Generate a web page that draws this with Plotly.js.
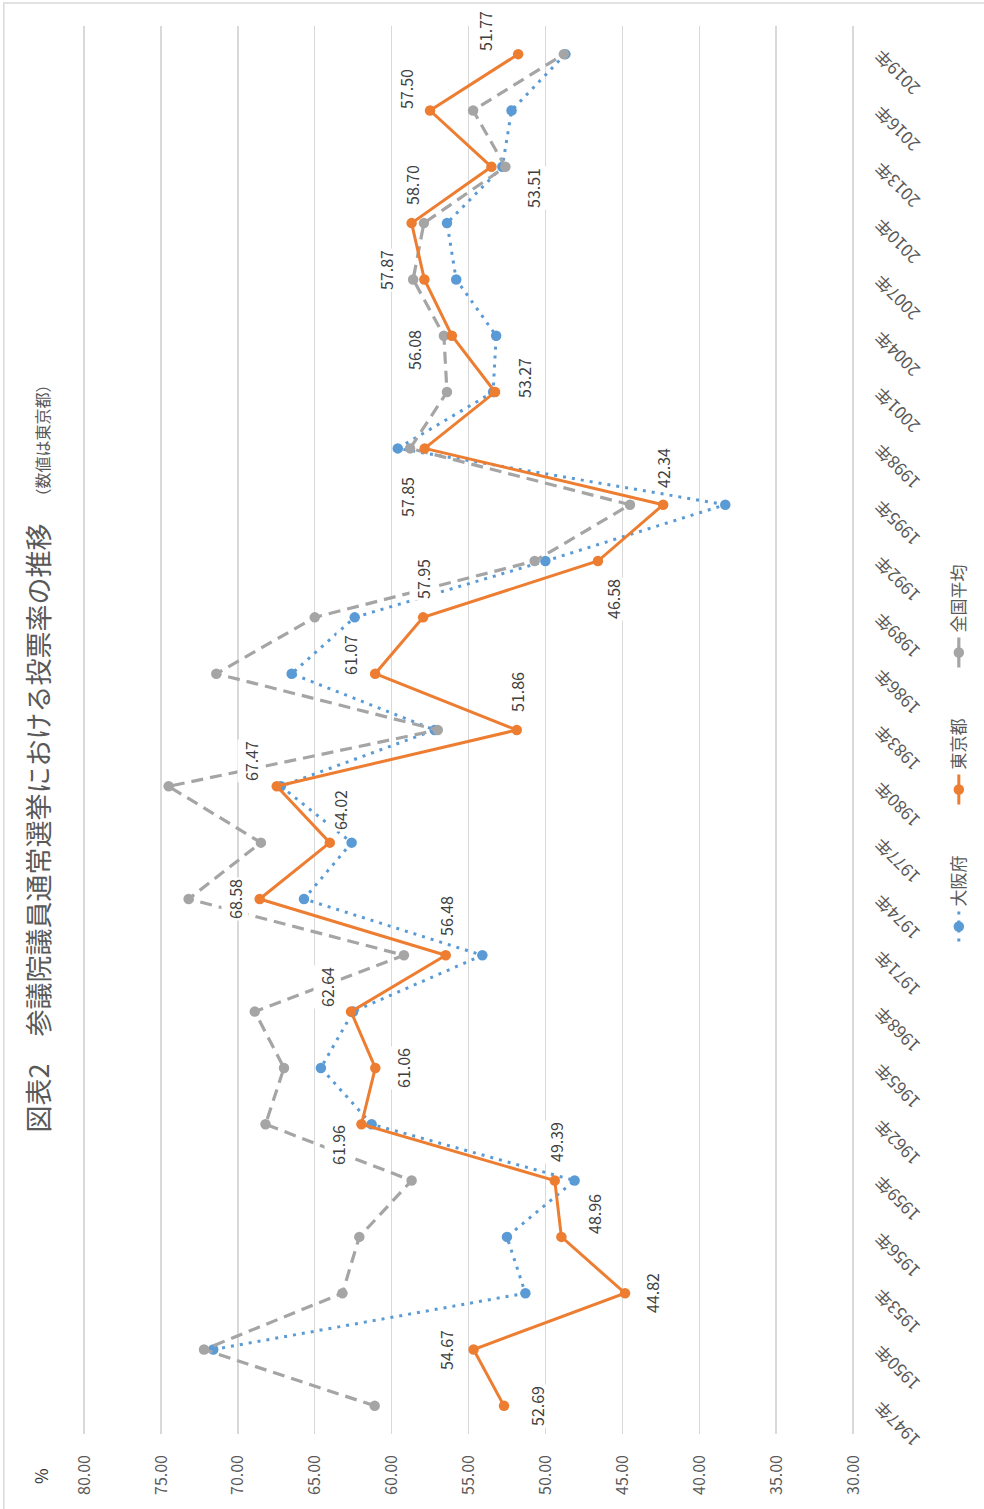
<!DOCTYPE html>
<html>
<head>
<meta charset="utf-8">
<script src="https://cdn.plot.ly/plotly-3.0.1.min.js"></script>
<style>
  html, body { margin:0; padding:0; width:984px; height:1509px; overflow:hidden; background:#fff; }
  #chart { position:absolute; left:0; top:0; width:1509px; height:984px;
           transform-origin:0 0; transform: translateY(1509px) rotate(-90deg); }
</style>
</head>
<body>
<div id="chart"></div>
<script>
// ---- data ----
const years = ['1947年','1950年','1953年','1956年','1959年','1962年','1965年','1968年','1971年','1974年','1977年','1980年','1983年','1986年','1989年','1992年','1995年','1998年','2001年','2004年','2007年','2010年','2013年','2016年','2019年'];
const tokyo = [52.69,54.67,44.82,48.96,49.39,61.96,61.06,62.64,56.48,68.58,64.02,67.47,51.86,61.07,57.95,46.58,42.34,57.85,53.27,56.08,57.87,58.70,53.51,57.50,51.77];
const osaka = [null,71.6,51.3,52.5,48.1,61.3,64.6,62.5,54.1,65.7,62.6,67.2,57.2,66.5,62.4,50.0,38.3,59.6,53.4,53.2,55.8,56.4,52.8,52.2,48.7];
const national = [61.1,72.2,63.2,62.1,58.7,68.2,67.0,68.9,59.2,73.2,68.5,74.5,57.0,71.4,65.0,50.7,44.5,58.8,56.4,56.6,58.6,57.9,52.6,54.7,48.8];
const yTicks = [30,35,40,45,50,55,60,65,70,75,80];

// ---- label placement (styling) ----
const labelShiftX = [0,0,0,23,39,-21,0,25,39,0,33,25,38,19,38,-38,37,-49,14,-14,9,38,-21,21,23];
const labelShiftY = [-33,28,-27,-33,-1,23,-28,24,0,25,-10,26,0,25,0,-15,0,18,-29,38,38,0,-42,24,33];

const FONT = '"Noto Sans CJK JP", "Noto Sans", sans-serif';
const BLUE = '#5B9BD5', ORANGE = '#ED7D31', GRAY = '#A5A5A5';

const traces = [
  { name:'大阪府', x:years, y:osaka, type:'scatter', mode:'lines+markers', legendrank:1,
    line:{color:BLUE, width:3, dash:'3px,6px'}, marker:{color:BLUE, size:10.5}, connectgaps:false },
  { name:'全国平均', x:years, y:national, type:'scatter', mode:'lines+markers', legendrank:3,
    line:{color:GRAY, width:3.2, dash:'12px,7px'}, marker:{color:GRAY, size:10.5} },
  { name:'東京都', x:years, y:tokyo, type:'scatter', mode:'lines+markers', legendrank:2,
    line:{color:ORANGE, width:3}, marker:{color:ORANGE, size:10.5} }
];

const annotations = tokyo.map((v,i) => ({
  x: years[i], y: v, xref:'x', yref:'y', text: v.toFixed(2), showarrow:false,
  xshift: labelShiftX[i], yshift: labelShiftY[i], bgcolor:'#ffffff', borderpad:1,
  font:{family:FONT, size:16, color:'#404040'}
}));
annotations.push({
  xref:'paper', yref:'paper', x:(33-75)/1408, y:(853-42)/769, xanchor:'center', yanchor:'middle',
  text:'%', showarrow:false, font:{family:FONT, size:17, color:'#333333'}
});

const layout = {
  width:1509, height:984,
  margin:{l:75, r:26, t:83, b:130, autoexpand:false},
  paper_bgcolor:'#ffffff', plot_bgcolor:'#ffffff',
  font:{family:FONT, color:'#595959'},
  title:{
    text:'図表2　参議院議員通常選挙における投票率の推移　<span style="font-size:16px">（数値は東京都）</span>',
    x:0.5, xanchor:'center', xref:'container', y:1-40/984, yanchor:'middle', yref:'container',
    font:{family:FONT, size:27, color:'#595959'}
  },
  xaxis:{
    type:'category', categoryorder:'array', categoryarray:years, range:[-0.5, 24.5],
    tickangle:-45, tickfont:{family:FONT, size:17, color:'#595959'},
    showgrid:false, zeroline:false, showline:false, ticks:'', ticklabelstandoff:13,
    fixedrange:true, automargin:false
  },
  yaxis:{
    range:[29.93, 80.07], tickvals:yTicks, tickformat:'.2f',
    showgrid:true, gridcolor:'#D9D9D9', gridwidth:1.3, zeroline:false, showline:false,
    ticks:'', ticklabelstandoff:20, automargin:false,
    tickfont:{family:FONT, size:16, color:'#595959'}, fixedrange:true
  },
  showlegend:true,
  legend:{
    orientation:'h', x:(768-75)/1408, xanchor:'center',
    y:(853-958)/769, yanchor:'middle',
    font:{family:FONT, size:17, color:'#595959'},
    entrywidth:92, traceorder:'normal', bgcolor:'rgba(0,0,0,0)'
  },
  annotations: annotations,
  shapes:[{
    type:'rect', xref:'paper', yref:'paper', layer:'below',
    x0:(-20-75)/1408, x1:(1506-75)/1408, y0:(853-1000)/769, y1:(853-5)/769,
    line:{color:'#D9D9D9', width:1.5}, fillcolor:'rgba(0,0,0,0)'
  }]
};

Plotly.newPlot('chart', traces, layout, {displayModeBar:false, staticPlot:true});
</script>
</body>
</html>
